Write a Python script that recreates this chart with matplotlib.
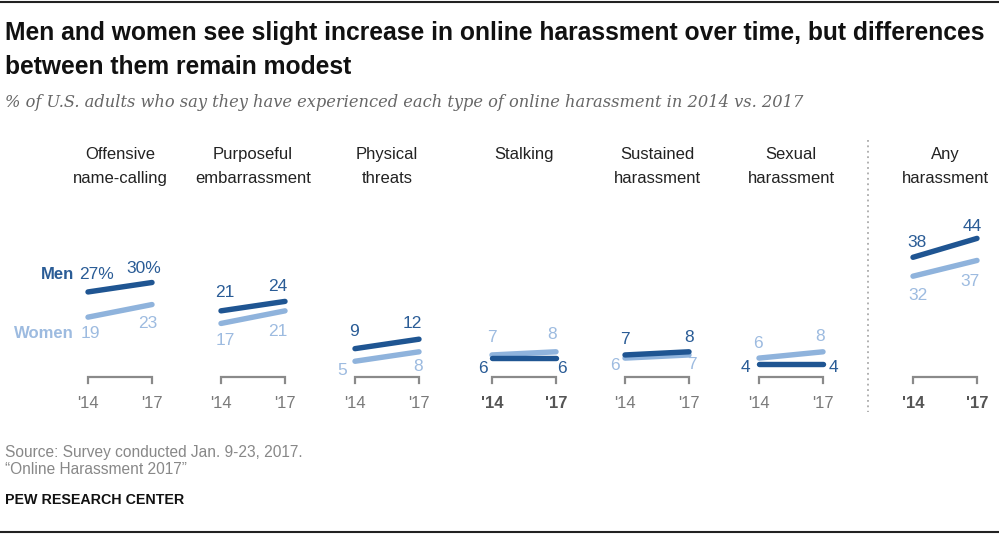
import matplotlib
matplotlib.use("Agg")
import matplotlib.pyplot as plt
from matplotlib.lines import Line2D

# -----------------------------------------------------------------------------
# Pew-style small multiples: online harassment by gender, 2014 vs. 2017.
# -----------------------------------------------------------------------------

CATEGORIES = [
    "Offensive\nname-calling",
    "Purposeful\nembarrassment",
    "Physical\nthreats",
    "Stalking",
    "Sustained\nharassment",
    "Sexual\nharassment",
    "Any\nharassment",
]
YEARS = ["'14", "'17"]

MEN_2014 = [27, 21, 9, 6, 7, 4, 38]
MEN_2017 = [30, 24, 12, 6, 8, 4, 44]
WOMEN_2014 = [19, 17, 5, 7, 6, 6, 32]
WOMEN_2017 = [23, 21, 8, 8, 7, 8, 37]

# layout (pixels on a 999x535 canvas)
FIG_W, FIG_H = 999, 535
PANEL_LEFT = [88, 221, 355, 492, 625, 759, 913]
PANEL_W = 64
ZERO_Y = 377
PX_PER_UNIT = 3.15
Y_MAX = 50

# label offsets in pixels (dx, dy with dy pointing down) per panel:
# men '14, men '17, women '14, women '17
LABEL_OFFSETS = [
    [(8, -17), (-8, -14), (2, 16), (-4, 19)],
    [(4, -18), (-7, -15), (4, 17), (-7, 21)],
    [(-1, -17), (-7, -16), (-13, 9), (-1, 15)],
    [(-9, 10), (6, 10), (0, -17), (-4, -17)],
    [(0, -15), (0, -14), (-10, 7), (3, 10)],
    [(-14, 3), (10, 3), (-1, -15), (-3, -15)],
    [(4, -15), (-5, -12), (5, 19), (-7, 21)],
]
BOLD_YEARS = [False, False, False, True, False, False, True]

MEN_COLOR = "#1f5592"
WOMEN_COLOR = "#8fb3dc"
MEN_TEXT = "#2a5c96"
WOMEN_TEXT = "#9dbbe0"
GRAY = "#8a8a8a"

plt.rcParams["font.family"] = ["Liberation Sans", "DejaVu Sans"]

fig = plt.figure(figsize=(FIG_W / 100, FIG_H / 100), dpi=100)


def fx(px):
    return px / FIG_W


def fy(py):
    return 1 - py / FIG_H


for i, cat in enumerate(CATEGORIES):
    left = PANEL_LEFT[i]
    ax = fig.add_axes([
        fx(left),
        fy(ZERO_Y),
        PANEL_W / FIG_W,
        Y_MAX * PX_PER_UNIT / FIG_H,
    ])
    ax.set_xlim(0, 1)
    ax.set_ylim(0, Y_MAX)
    ax.axis("off")

    # bracket under each pair of years
    ax.add_line(Line2D([0, 0, 1, 1], [-2, 0, 0, -2], color=GRAY, lw=1.6,
                       clip_on=False, solid_joinstyle="miter"))

    men = [MEN_2014[i], MEN_2017[i]]
    women = [WOMEN_2014[i], WOMEN_2017[i]]
    ax.plot([0, 1], women, color=WOMEN_COLOR, lw=3.9,
            solid_capstyle="round", clip_on=False, zorder=2)
    ax.plot([0, 1], men, color=MEN_COLOR, lw=3.9,
            solid_capstyle="round", clip_on=False, zorder=3)

    offs = LABEL_OFFSETS[i]
    points = [(0, men[0]), (1, men[1]), (0, women[0]), (1, women[1])]
    for k, (x, v) in enumerate(points):
        txt = str(v)
        if i == 0 and k < 2:
            txt += "%"
        color = MEN_TEXT if k < 2 else WOMEN_TEXT
        dx, dy = offs[k]
        ax.annotate(txt, (x, v), xytext=(dx, -dy),
                    textcoords="offset pixels", ha="center", va="center",
                    fontsize=12.5, color=color, annotation_clip=False)

    if i == 0:
        ax.annotate("Men", (0, men[0]), xytext=(-14, -offs[0][1]),
                    textcoords="offset pixels", ha="right", va="center",
                    fontsize=12, fontweight="bold", color=MEN_TEXT,
                    annotation_clip=False)
        ax.annotate("Women", (0, women[0]), xytext=(-14, -offs[2][1]),
                    textcoords="offset pixels", ha="right", va="center",
                    fontsize=12, fontweight="bold", color=WOMEN_TEXT,
                    annotation_clip=False)

    # year labels
    for x, yr in zip([0, 1], YEARS):
        ax.annotate(yr, (x, 0), xytext=(0, -27), textcoords="offset pixels",
                    ha="center", va="center", fontsize=12,
                    color="#555555" if BOLD_YEARS[i] else "#7a7a7a",
                    fontweight="bold" if BOLD_YEARS[i] else "normal",
                    annotation_clip=False)

    # header
    fig.text(fx(left + PANEL_W / 2), fy(147), cat, ha="center", va="top",
             fontsize=12, color="#222222", linespacing=1.75)

# dotted divider before "Any harassment"
fig.add_artist(Line2D([fx(868), fx(868)], [fy(140), fy(412)],
                      color="#aaaaaa", lw=1.3, linestyle=(0, (1, 2))))

# title block
fig.add_artist(Line2D([0, 1], [fy(2), fy(2)], color="#222222", lw=1.5))
fig.text(fx(5), fy(33),
         "Men and women see slight increase in online harassment over time, but differences",
         ha="left", va="center", fontsize=17.7, fontweight="bold", color="#111111")
fig.text(fx(5), fy(67), "between them remain modest",
         ha="left", va="center", fontsize=17.7, fontweight="bold", color="#111111")
fig.text(fx(5), fy(102),
         "% of U.S. adults who say they have experienced each type of online harassment in 2014 vs. 2017",
         ha="left", va="center", fontsize=11.7, style="italic",
         family=["DejaVu Serif"], color="#666666")

# footer
fig.text(fx(5), fy(452), "Source: Survey conducted Jan. 9-23, 2017.",
         ha="left", va="center", fontsize=11.2, color="#888888")
fig.text(fx(5), fy(470), "\u201cOnline Harassment 2017\u201d",
         ha="left", va="center", fontsize=11.2, color="#888888")
fig.text(fx(5), fy(500), "PEW RESEARCH CENTER",
         ha="left", va="center", fontsize=10.3, fontweight="bold", color="#111111")
fig.add_artist(Line2D([0, 1], [fy(532), fy(532)], color="#222222", lw=1.5))

fig.savefig("out.png", dpi=100)
